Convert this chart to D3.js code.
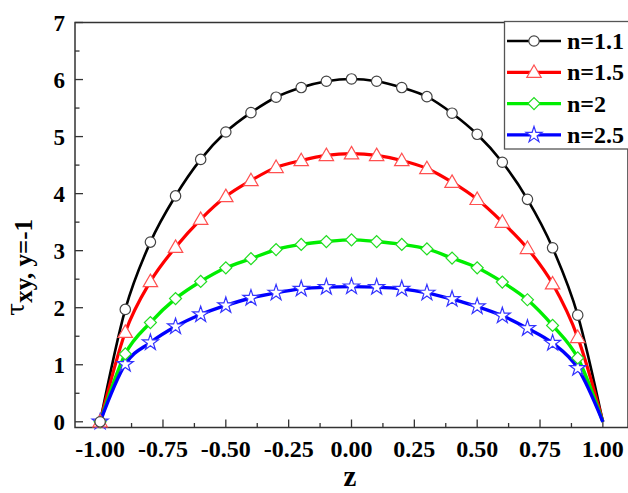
<!DOCTYPE html>
<html><head><meta charset="utf-8">
<script src="https://cdn.jsdelivr.net/npm/d3@7"></script>
<style>
body{margin:0;background:#fff;}
svg{display:block;font-family:"Liberation Serif","Times New Roman",serif;}
</style></head>
<body><svg id="c" width="628" height="493"></svg>
<script>
const zValues = [-1, -0.9, -0.8, -0.7, -0.6, -0.5, -0.4, -0.3, -0.2, -0.1, 0, 0.1, 0.2, 0.3, 0.4, 0.5, 0.6, 0.7, 0.8, 0.9, 1];
const n11 = [0, 1.97, 3.15, 3.96, 4.60, 5.08, 5.42, 5.69, 5.86, 5.97, 6.01, 5.97, 5.86, 5.70, 5.41, 5.04, 4.55, 3.90, 3.05, 1.87, 0];
const n15 = [0, 1.57, 2.46, 3.06, 3.55, 3.95, 4.23, 4.46, 4.58, 4.67, 4.70, 4.67, 4.58, 4.44, 4.20, 3.90, 3.50, 3.04, 2.42, 1.48, 0];
const n20 = [0, 1.19, 1.74, 2.16, 2.46, 2.70, 2.86, 3.02, 3.11, 3.16, 3.19, 3.16, 3.11, 3.03, 2.87, 2.70, 2.45, 2.14, 1.69, 1.12, 0];
const n25 = [0, 1.01, 1.39, 1.67, 1.88, 2.04, 2.17, 2.26, 2.33, 2.36, 2.37, 2.36, 2.33, 2.26, 2.15, 2.02, 1.86, 1.64, 1.38, 0.94, 0];
const seriesNames = ["n=1.1", "n=1.5", "n=2", "n=2.5"];
const xTicks = [-1.00, -0.75, -0.50, -0.25, 0.00, 0.25, 0.50, 0.75, 1.00];
const yTicks = [0, 1, 2, 3, 4, 5, 6, 7];

const series = [
  {name: seriesNames[0], values: n11, color: "#000000", mstroke: "#444444", sym: "circle", lw: 2.6},
  {name: seriesNames[1], values: n15, color: "#ff0000", mstroke: "#ff5050", sym: "triangle", lw: 3.2},
  {name: seriesNames[2], values: n20, color: "#00ee00", mstroke: "#22dd22", sym: "diamond", lw: 3.4},
  {name: seriesNames[3], values: n25, color: "#0000ff", mstroke: "#3333ff", sym: "star", lw: 3.4}
];

const svg = d3.select("#c");
const x = d3.scaleLinear().domain([-1.1, 1.1]).range([75, 628]);
const y = d3.scaleLinear().domain([-0.1, 7]).range([427.5, 22.5]);

const g = svg.append("g");
g.append("rect").attr("x", 75).attr("y", 22.5).attr("width", 553).attr("height", 405)
  .attr("fill", "none").attr("stroke", "#333").attr("stroke-width", 1.5);

const xMinor = d3.range(-1.125, 1.126, 0.125).filter(v => v > -1.1 && v < 1.1);
g.selectAll(".xt").data(xMinor).join("line")
  .attr("x1", d => x(d)).attr("x2", d => x(d))
  .attr("y1", 427.5).attr("y2", d => 427.5 - (Math.abs(Math.round(d * 4) - d * 4) < 1e-6 ? 8 : 4.5))
  .attr("stroke", "#333").attr("stroke-width", 1.3);
g.selectAll(".xl").data(xTicks).join("text")
  .attr("x", d => x(d)).attr("y", 457).attr("text-anchor", "middle")
  .attr("font-size", 24).attr("font-weight", "bold").text(d => d3.format(".2f")(d).replace("−", "-"));

const yMinor = d3.range(0, 7.01, 0.5);
g.selectAll(".yt").data(yMinor).join("line")
  .attr("x1", 75).attr("x2", d => 75 + (d % 1 === 0 ? 8 : 4.5))
  .attr("y1", d => y(d)).attr("y2", d => y(d))
  .attr("stroke", "#333").attr("stroke-width", 1.3);
g.selectAll(".yl").data(yTicks).join("text")
  .attr("x", 65).attr("y", d => y(d) + 8).attr("text-anchor", "end")
  .attr("font-size", 23).attr("font-weight", "bold").text(d => d);

svg.append("text").attr("x", 350).attr("y", 486).attr("text-anchor", "middle")
  .attr("font-size", 29).attr("font-weight", "bold").text("z");
const yt = svg.append("text").attr("transform", "translate(24,316) rotate(-90)");
yt.append("tspan").attr("font-size", 24).attr("font-family", "DejaVu Serif").text("τ");
yt.append("tspan").attr("font-size", 25).attr("font-weight", "bold").attr("dy", 8).text("xy, y=-1");

function symPath(type, size) {
  if (type === "circle") return d3.symbol(d3.symbolCircle, size)();
  if (type === "triangle") return d3.symbol(d3.symbolTriangle, size)();
  if (type === "diamond") return d3.symbol(d3.symbolSquare, size)();
  return d3.symbol(d3.symbolStar, size)();
}
const symSize = {circle: 85, triangle: 90, diamond: 72, star: 80};
function symTransform(type, px, py) {
  let t = `translate(${px},${py})`;
  if (type === "diamond") t += " rotate(45)";
  if (type === "triangle") t += " translate(0,1)";
  return t;
}

const line = d3.line().x(d => x(d[0])).y(d => y(d[1])).curve(d3.curveMonotoneX);
series.forEach(s => {
  const pts = zValues.map((z, i) => [z, s.values[i]]);
  svg.append("path").datum(pts).attr("d", line).attr("fill", "none")
    .attr("stroke", s.color).attr("stroke-width", s.lw);
});
series.slice().reverse().forEach(s => {
  const pts = zValues.map((z, i) => [z, s.values[i]]).filter(p => p[0] < 0.99);
  svg.selectAll(null).data(pts).join("path")
    .attr("d", symPath(s.sym, symSize[s.sym]))
    .attr("transform", d => symTransform(s.sym, x(d[0]), y(d[1])))
    .attr("fill", "#fff").attr("stroke", s.mstroke).attr("stroke-width", 1.2);
});

const lg = svg.append("g");
lg.append("rect").attr("x", 504.5).attr("y", 21.5).attr("width", 130).attr("height", 127.5)
  .attr("fill", "#fff").attr("stroke", "#555").attr("stroke-width", 1.3);
series.forEach((s, i) => {
  const cy = 41 + i * 31.3;
  lg.append("line").attr("x1", 507).attr("x2", 561).attr("y1", cy).attr("y2", cy)
    .attr("stroke", s.color).attr("stroke-width", s.lw);
  lg.append("path").attr("d", symPath(s.sym, symSize[s.sym]))
    .attr("transform", symTransform(s.sym, 534, cy))
    .attr("fill", "#fff").attr("stroke", s.mstroke).attr("stroke-width", 1.2);
  lg.append("text").attr("x", 567).attr("y", cy + 8).attr("font-size", 24)
    .attr("font-weight", "bold").text(s.name);
});
</script></body></html>
